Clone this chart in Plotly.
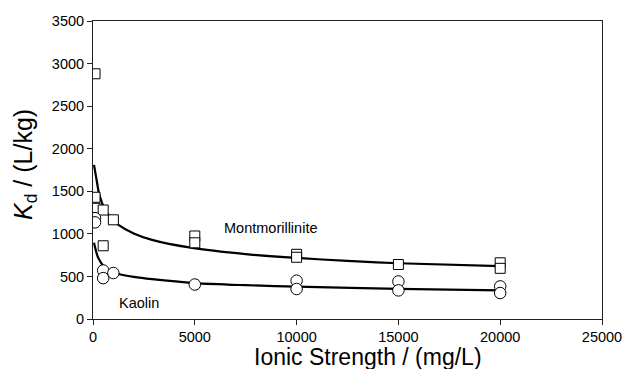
import plotly.graph_objects as go

mont_x = [100, 100, 100, 500, 500, 1000, 5000, 5000, 10000, 10000, 15000, 20000, 20000]
mont_y = [2880, 1430, 1300, 1280, 860, 1165, 975, 895, 760, 725, 640, 660, 595]

kaol_x = [100, 100, 500, 500, 1000, 5000, 10000, 10000, 15000, 15000, 20000, 20000]
kaol_y = [1185, 1135, 570, 480, 540, 405, 450, 352, 441, 336, 383, 305]

# Fitted curves
mont_fit_x = [50, 200, 300, 600, 1000, 1250, 2000, 2900, 4800, 7500, 10000, 12500, 15000, 20000]
mont_fit_y = [1810, 1600, 1470, 1280, 1160, 1105, 1005, 930, 838, 762, 717, 683, 655, 622]

kaol_fit_x = [50, 260, 590, 1000, 1250, 2000, 2900, 5000, 7500, 10000, 15000, 20000]
kaol_fit_y = [895, 716, 605, 552, 528, 495, 468, 422, 397, 380, 353, 336]

x_ticks = [0, 5000, 10000, 15000, 20000, 25000]
y_ticks = [0, 500, 1000, 1500, 2000, 2500, 3000, 3500]

FONT = "Arial, Liberation Sans, sans-serif"

W, H = 624, 369

fig = go.Figure()
fig.add_trace(go.Scatter(x=mont_fit_x, y=mont_fit_y, mode="lines",
                         line=dict(color="black", width=2.2, shape="spline", smoothing=0.8),
                         hoverinfo="skip", showlegend=False))
fig.add_trace(go.Scatter(x=kaol_fit_x, y=kaol_fit_y, mode="lines",
                         line=dict(color="black", width=2.2, shape="spline", smoothing=0.8),
                         hoverinfo="skip", showlegend=False))
fig.add_trace(go.Scatter(x=mont_x, y=mont_y, mode="markers", name="Montmorillinite",
                         marker=dict(symbol="square", size=10, color="white",
                                     line=dict(color="black", width=1)),
                         showlegend=False))
fig.add_trace(go.Scatter(x=kaol_x, y=kaol_y, mode="markers", name="Kaolin",
                         marker=dict(symbol="circle", size=11.5, color="white",
                                     line=dict(color="black", width=1)),
                         showlegend=False))

axis_common = dict(showline=True, linecolor="#222", linewidth=1, mirror=True,
                   ticks="outside", ticklen=5, tickcolor="#222", tickwidth=1,
                   showgrid=False, zeroline=False, automargin=False,
                   tickfont=dict(family=FONT, size=14.5, color="black"))

fig.update_xaxes(range=[0, 25000], tickvals=x_ticks, ticktext=[str(v) for v in x_ticks],
                 **axis_common)
fig.update_yaxes(range=[0, 3500], tickvals=y_ticks, ticktext=[str(v) for v in y_ticks],
                 **axis_common)

pl, pr, pt, pb = 93, 602, 21, 319  # plot area in screen pixels

fig.update_layout(
    template="none",
    width=W, height=H,
    margin=dict(l=pl, r=W - pr, t=pt, b=H - pb, pad=0),
    paper_bgcolor="white", plot_bgcolor="white",
    font=dict(family=FONT, color="black"),
    showlegend=False,
    annotations=[
        dict(text="Montmorillinite", x=270, y=227.7, xref="paper", yref="paper",
             showarrow=False, font=dict(size=14.5)),
        dict(text="Kaolin", x=138.7, y=303, xref="paper", yref="paper",
             showarrow=False, font=dict(size=14.5)),
        dict(text="Ionic Strength / (mg/L)", x=368, y=357, xref="paper", yref="paper",
             showarrow=False, font=dict(size=23)),
        dict(text="<i>K</i><sub>d</sub> / (L/kg)", x=25, y=165, xref="paper", yref="paper",
             showarrow=False, textangle=-90, font=dict(size=25)),
    ],
)

# convert screen-pixel positions of annotations to paper coordinates
for a in fig.layout.annotations:
    px, py = a.x, a.y
    a.x = (px - pl) / (pr - pl)
    a.y = (pb - py) / (pb - pt)
    a.xanchor = "center"
    a.yanchor = "middle"

fig.write_html("out.html",
               config={"displayModeBar": False},
               post_script="document.body.style.margin='0px';document.body.style.overflow='hidden';")
